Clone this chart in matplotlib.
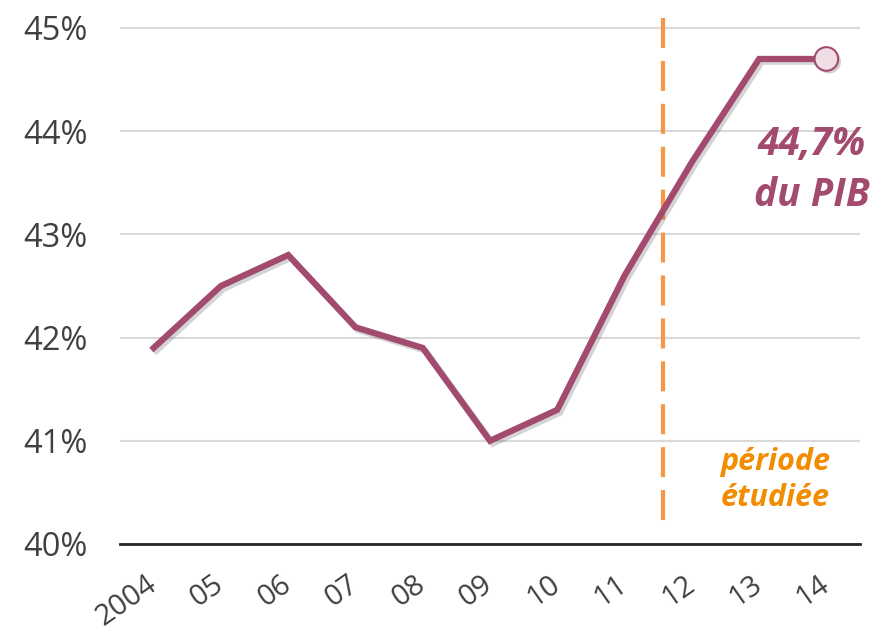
import matplotlib.pyplot as plt
import matplotlib.patheffects as pe

# Data
years = ['2004', '05', '06', '07', '08', '09', '10', '11', '12', '13', '14']
values = [41.9, 42.5, 42.8, 42.1, 41.9, 41.0, 41.3, 42.6, 43.7, 44.7, 44.7]
y_ticks = [40, 41, 42, 43, 44, 45]
y_labels = ['40%', '41%', '42%', '43%', '44%', '45%']
split_pos = 7.57  # between 2011 and 2012

plt.rcParams['font.family'] = ['Open Sans', 'DejaVu Sans']

fig = plt.figure(figsize=(8.78, 6.35), dpi=100)
ax = fig.add_axes([120 / 878, (635 - 544) / 635, 740 / 878, (544 - 18) / 635])

x = list(range(len(years)))
purple = '#A34A6F'

ax.plot(x, values, color=purple, lw=4.5, solid_joinstyle='miter', zorder=3,
        path_effects=[pe.SimpleLineShadow(offset=(2, -2), alpha=0.25, shadow_color='#555555'),
                      pe.Normal()])
ax.plot(x[-1], values[-1], 'o', ms=17, mfc='#F0DEE7', mec=purple, mew=1.5, zorder=4,
        path_effects=[pe.SimplePatchShadow(offset=(2, -2), alpha=0.25), pe.Normal()])

# dashed separator, drawn top-down so the pattern starts with a dash at the top
ax.plot([split_pos, split_pos], [45 + 10 / 103.2, 40.155], color='#F79646', lw=3,
        ls=(0, (7.2, 3.1)), zorder=2, clip_on=False)

ax.set_xlim(-0.5, 10.5)
ax.set_ylim(40, 45 + 10 / 103.2)
ax.set_yticks(y_ticks)
ax.set_yticklabels(y_labels)
ax.set_xticks(x)
ax.set_xticklabels(years, rotation=35, ha='right', va='center', rotation_mode='anchor')
ax.tick_params(axis='both', length=0, colors='#404040')
ax.tick_params(axis='x', pad=27, labelsize=21)
ax.tick_params(axis='y', pad=70, labelsize=23.5)
for lab in ax.get_yticklabels():
    lab.set_ha('left')
ax.grid(axis='y', color='#D9D9D9', lw=1.5)
ax.set_axisbelow(True)
for s in ['top', 'right', 'left']:
    ax.spines[s].set_visible(False)
ax.spines['bottom'].set_color('#262626')
ax.spines['bottom'].set_linewidth(2)

ax.text(9.78, 43.62, '44,7%\ndu PIB', color=purple, fontsize=28, fontweight='bold',
        fontstyle='italic', ha='center', va='center', linespacing=1.4)
ax.text(9.24, 40.62, 'période\nétudiée', color='#F28C00', fontsize=22, fontweight='bold',
        fontstyle='italic', ha='center', va='center', linespacing=1.3)

plt.savefig('out.png', dpi=100)
